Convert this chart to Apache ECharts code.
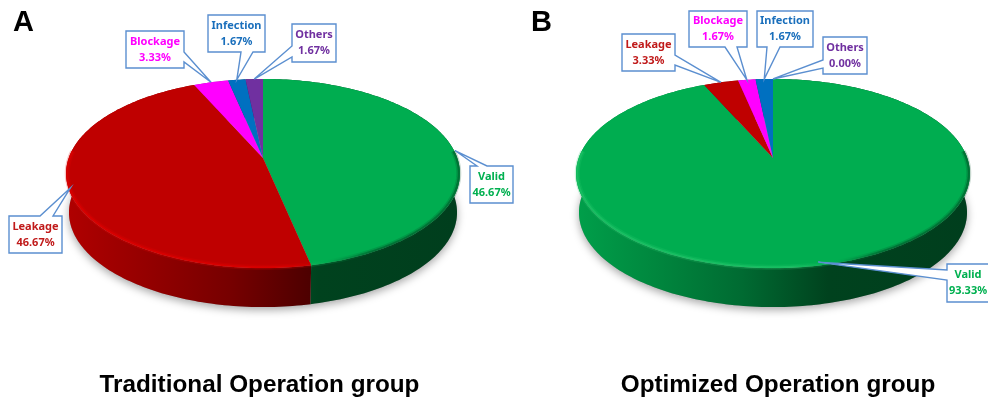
<!DOCTYPE html>
<html><head><meta charset="utf-8">
<style>html,body{margin:0;padding:0;background:#fff}#c{width:988px;height:399px}</style>
<script src="https://cdn.jsdelivr.net/npm/echarts@6/dist/echarts.min.js"></script>
</head><body><div id="c"></div>
<script>
var categories = ['Valid', 'Leakage', 'Blockage', 'Infection', 'Others'];
var traditionalValues = [46.67, 46.67, 3.33, 1.67, 1.67];
var optimizedValues = [93.33, 3.33, 1.67, 1.67, 0.00];
var groupTitles = ['Traditional Operation group', 'Optimized Operation group'];
var panelLetters = ['A', 'B'];

// styles
var topColors = ['#00ad50', '#bf0000', '#ff00ff', '#0070c0', '#7030a0'];
var textColors = ['#00b050', '#c01a1a', '#ff00ff', '#1a6fbc', '#7030a0'];
var rimLight = ['#26c86c', '#e60000', '#ff60ff', '#2090e0', '#9050c0'];
var boxStroke = '#5b8fd0';
var labelFont = 'bold 11px "Noto Sans"';

// layout of the two discs: a perspective projection of a circle
var persp = 0.164, radiusY = 92, radiusX = 194.3, depth = 39, bottomScale = 0.985, apexY = 158;
var discCentersX = [263, 773];

// callouts: box [x0,y0,x1,y1], wedge side, wedge base on that side, tip shift
var calloutsA = [
  {box:[470,166,513,203], side:'top', base:[477,487], shift:[2,2]},
  {box:[9,216,62,253], side:'top', base:[40,53], shift:[2,0]},
  {box:[126,31,184,68], side:'right', base:[52,62], shift:[0,0]},
  {box:[208,15,265,52], side:'bottom', base:[241,253], shift:[0,0]},
  {box:[292,24,336,62], side:'left', base:[46,57], shift:[0,0]}
];
var calloutsB = [
  {box:[947,264,992,302], side:'left', base:[270,280], shift:[-3,-3]},
  {box:[622,34,675,71], side:'right', base:[55,65], shift:[0,0]},
  {box:[689,11,747,47], side:'bottom', base:[725,737], shift:[0,0]},
  {box:[757,11,813,47], side:'bottom', base:[767,780], shift:[0,0]},
  {box:[823,37,867,74], side:'left', base:[60,68], shift:[0,0]}
];

function shade(hex, f) {
  var n = parseInt(hex.slice(1), 16);
  var r = Math.round((n >> 16 & 255) * f), g = Math.round((n >> 8 & 255) * f), b = Math.round((n & 255) * f);
  return 'rgb(' + r + ',' + g + ',' + b + ')';
}

function project(cx, theta, scale) {
  var u = Math.sin(theta) * scale, v = -Math.cos(theta) * scale;
  var d = 1 - persp * v;
  return [cx + radiusX * u / d, apexY + radiusY * v / d];
}
function lower(cx, p) { return [cx + (p[0] - cx) * bottomScale, p[1] + depth]; }

function arc(cx, a0, a1, scale) {
  var pts = [], n = Math.max(2, Math.ceil((a1 - a0) / 0.02));
  for (var i = 0; i <= n; i++) pts.push(project(cx, a0 + (a1 - a0) * i / n, scale));
  return pts;
}

function calloutPoints(c, tip) {
  var b = c.box, x0 = b[0], y0 = b[1], x1 = b[2], y1 = b[3], p = c.base;
  if (c.side === 'top') return [[x0,y0],[p[0],y0],tip,[p[1],y0],[x1,y0],[x1,y1],[x0,y1]];
  if (c.side === 'bottom') return [[x0,y0],[x1,y0],[x1,y1],[p[1],y1],tip,[p[0],y1],[x0,y1]];
  if (c.side === 'right') return [[x0,y0],[x1,y0],[x1,p[0]],tip,[x1,p[1]],[x1,y1],[x0,y1]];
  return [[x0,y0],[x1,y0],[x1,y1],[x0,y1],[x0,p[1]],tip,[x0,p[0]]];
}

function pieRenderer(values, cx, callouts) {
  var total = values.reduce(function (s, v) { return s + v; }, 0);
  return function (params, api) {
    var idx = api.value(1), val = api.value(0), before = 0;
    for (var i = 0; i < idx; i++) before += values[i];
    var a0 = before / total * 2 * Math.PI, a1 = (before + val) / total * 2 * Math.PI;
    var children = [], x0 = cx - 197, w = 394;
    var grad = function (stops) {
      return new echarts.graphic.LinearGradient(x0, 0, x0 + w, 0, stops, true);
    };
    if (val > 0) {
      var edge = arc(cx, a0, a1, 1);
      var base = topColors[idx];
      var wall = edge.concat(edge.map(function (p) { return lower(cx, p); }).reverse());
      children.push({type:'polygon', z2:2, shape:{points:wall}, style:{
        fill: grad([{offset:0,color:shade(base,0.92)},{offset:0.2,color:shade(base,0.78)},
                    {offset:0.42,color:shade(base,0.62)},{offset:0.64,color:shade(base,0.38)},
                    {offset:1,color:shade(base,0.36)}])}});
      children.push({type:'polygon', z2:4, shape:{points:[[cx, apexY]].concat(edge)}, style:{fill:base}});
      var front = arc(cx, a0, a1, 0.994).filter(function (p) { return p[1] > apexY - 8; });
      if (front.length > 1) {
        var rimDark = shade(base, 0.45);
        var rimStops = [{offset:0,color:rimLight[idx]},{offset:0.55,color:rimLight[idx]},{offset:0.66,color:base},{offset:0.78,color:rimDark},{offset:1,color:rimDark}];
        children.push({type:'polyline', z2:5, shape:{points:front}, style:{fill:null, lineWidth:5, opacity:0.22, stroke:grad(rimStops)}});
        children.push({type:'polyline', z2:6, shape:{points:front}, style:{fill:null, lineWidth:2, opacity:0.5, stroke:grad(rimStops)}});
      }
    }
    if (idx === 0) {
      var ring = arc(cx, 0, 2 * Math.PI, 1).map(function (p) { return lower(cx, p); });
      children.push({type:'polygon', z2:1, shape:{points:ring}, style:{fill:'#999', shadowBlur:8, shadowOffsetY:3, shadowColor:'rgba(0,0,0,0.35)'}});
    }
    var c = callouts[idx];
    var tipBase = project(cx, (a0 + a1) / 2, 1);
    var tip = [tipBase[0] + c.shift[0], tipBase[1] + c.shift[1]];
    children.push({type:'polygon', z2:10, shape:{points:calloutPoints(c, tip)}, style:{fill:'#fff', stroke:boxStroke, lineWidth:1.4, lineJoin:'miter'}});
    var textX = (c.box[0] + Math.min(c.box[2], 988)) / 2, textY = (c.box[1] + c.box[3]) / 2;
    if (c.box[2] > 988) textX = c.box[0] + 21;
    children.push({type:'text', z2:11, style:{
      text: categories[idx] + '\n' + val.toFixed(2) + '%',
      x: textX, y: textY, align:'center', verticalAlign:'middle',
      font: labelFont, lineHeight:16, fill: textColors[idx]}});
    return {type:'group', children:children};
  };
}

function rows(values) {
  return values.map(function (v, i) { return {name: categories[i], value: [v, i]}; });
}

var titleStyle = {fontFamily:'Liberation Sans', fontWeight:'bold', fontSize:24.3, color:'#000'};
var letterStyle = {fontFamily:'Liberation Sans', fontWeight:'bold', fontSize:29, color:'#000'};
var chart = echarts.init(document.getElementById('c'), null, {renderer:'canvas'});
chart.setOption({
  backgroundColor:'#fff',
  animation:false,
  title:[
    {text:groupTitles[0], left:259.5, top:373, padding:0, textAlign:'center', textStyle:titleStyle},
    {text:groupTitles[1], left:778, top:373, padding:0, textAlign:'center', textStyle:titleStyle},
    {text:panelLetters[0], left:13, top:8, padding:0, textStyle:letterStyle},
    {text:panelLetters[1], left:531, top:8, padding:0, textStyle:letterStyle}
  ],
  series:[
    {type:'custom', name:groupTitles[0], coordinateSystem:'none', silent:true, data:rows(traditionalValues), renderItem:pieRenderer(traditionalValues, discCentersX[0], calloutsA)},
    {type:'custom', name:groupTitles[1], coordinateSystem:'none', silent:true, data:rows(optimizedValues), renderItem:pieRenderer(optimizedValues, discCentersX[1], calloutsB)}
  ]
});
</script></body></html>
